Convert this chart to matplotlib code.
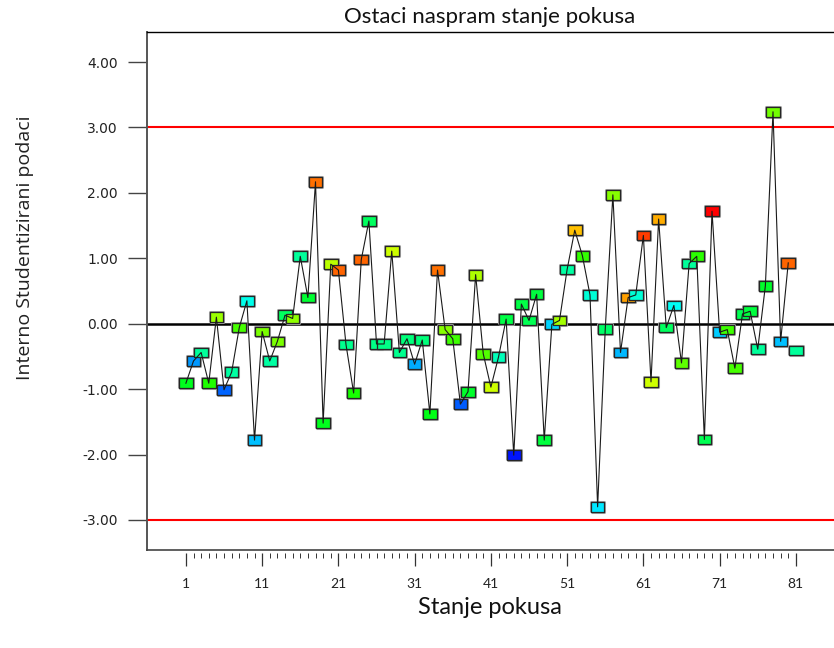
import matplotlib
matplotlib.use("Agg")
import matplotlib.pyplot as plt
from matplotlib.colors import LinearSegmentedColormap
from matplotlib.lines import Line2D
import matplotlib.patheffects as pe

# ---- data ----
runs = list(range(1, 82))
residuals = [
    -0.91, -0.57, -0.44, -0.91, 0.10, -1.01, -0.74, -0.06, 0.35, -1.78,
    -0.12, -0.57, -0.27, 0.13, 0.08, 1.03, 0.40, 2.17, -1.52, 0.91,
    0.82, -0.32, -1.06, 0.98, 1.57, -0.31, -0.31, 1.11, -0.44, -0.23,
    -0.62, -0.25, -1.38, 0.82, -0.09, -0.23, -1.23, -1.04, 0.75, -0.46,
    -0.97, -0.51, 0.07, -2.01, 0.30, 0.05, 0.45, -1.78, -0.01, 0.05,
    0.83, 1.43, 1.04, 0.44, -2.80, -0.08, 1.97, -0.44, 0.40, 0.44,
    1.35, -0.89, 1.60, -0.06, 0.28, -0.60, 0.92, 1.03, -1.77, 1.72,
    -0.13, -0.09, -0.68, 0.15, 0.19, -0.39, 0.58, 3.24, -0.27, 0.93,
    -0.41,
]
color_levels = [
    0.47, 0.15, 0.35, 0.53, 0.65, 0.10, 0.34, 0.57, 0.27, 0.19,
    0.62, 0.34, 0.62, 0.41, 0.64, 0.35, 0.45, 0.89, 0.47, 0.68,
    0.90, 0.36, 0.52, 0.90, 0.41, 0.37, 0.37, 0.70, 0.36, 0.38,
    0.17, 0.38, 0.48, 0.89, 0.63, 0.56, 0.09, 0.46, 0.67, 0.58,
    0.70, 0.32, 0.43, 0.02, 0.43, 0.42, 0.44, 0.44, 0.21, 0.66,
    0.34, 0.81, 0.55, 0.29, 0.23, 0.40, 0.63, 0.18, 0.84, 0.29,
    0.94, 0.70, 0.83, 0.41, 0.26, 0.59, 0.35, 0.54, 0.42, 1.00,
    0.20, 0.56, 0.57, 0.42, 0.44, 0.35, 0.46, 0.61, 0.19, 0.90,
    0.35,
]
y_ticks = [-3, -2, -1, 0, 1, 2, 3, 4]
x_major_ticks = [1, 11, 21, 31, 41, 51, 61, 71, 81]
limit = 3.0
title = "Ostaci naspram stanje pokusa"
x_label = "Stanje pokusa"
y_label = "Interno Studentizirani podaci"

# ---- figure ----
W, H = 834, 648
fig = plt.figure(figsize=(W / 100, H / 100), dpi=100)
left, right, top, bottom = 147, 834, 32, 550
ax = fig.add_axes([left / W, 1 - bottom / H, (right - left) / W, (bottom - top) / H])

cmap = LinearSegmentedColormap.from_list(
    "dx", ["#0000ff", "#00ffff", "#00ff00", "#ffff00", "#ff0000"])

ax.set_xlim(-4.1, 86.0)
ax.set_ylim(-3.46, 4.46)

ax.axhline(limit, color="#ff0000", lw=1.5, zorder=2)
ax.axhline(-limit, color="#ff0000", lw=1.5, zorder=2)
ax.axhline(0, color="black", lw=1.8, zorder=2)

verts = [(-1.4, -1), (1.4, -1), (1.4, 1), (-1.4, 1), (-1.4, -1)]
ax.scatter(runs, residuals, c=color_levels, cmap=cmap, vmin=0, vmax=1,
           marker=verts, s=96, edgecolors="#262626", linewidths=0.9,
           zorder=3,
           path_effects=[pe.Stroke(linewidth=2.2, foreground="#a0a0a0"), pe.Normal()])
ax.plot(runs[:-1], residuals[:-1], color="#1a1a1a", lw=0.8, zorder=4)

# spines
ax.spines["right"].set_visible(False)
ax.spines["top"].set_color("black")
ax.spines["top"].set_linewidth(1.0)
ax.spines["left"].set_color("#555555")
ax.spines["left"].set_linewidth(1.4)
ax.spines["bottom"].set_position(("outward", 2.5))
ax.spines["bottom"].set_visible(False)
ax.add_line(Line2D([0, 1], [0, 0], transform=ax.transAxes, color="#444444",
                   lw=1.2, clip_on=False, zorder=5))

ax.set_yticks(y_ticks)
ax.set_yticklabels([f"{v:.2f}" for v in y_ticks], fontsize=10, family="DejaVu Sans",
                   color="#222222")
ax.tick_params(axis="y", direction="out", length=14, width=1.0, color="#444444", pad=7)

ax.set_xticks(x_major_ticks)
ax.set_xticks([r for r in runs if r not in x_major_ticks], minor=True)
ax.set_xticklabels([str(v) for v in x_major_ticks], fontsize=10, family="Lato",
                   color="#222222")
ax.tick_params(axis="x", which="major", direction="out", length=9.5, width=0.9,
               color="#333333", pad=8)
ax.tick_params(axis="x", which="minor", direction="out", length=3.5, width=0.7,
               color="#333333")

fig.text(490 / W, 1 - 17 / H, title, ha="center", va="center", fontsize=16,
         family="Lato", color="#111111")
fig.text(490 / W, 1 - 607 / H, x_label, ha="center", va="center", fontsize=17,
         family="Lato", color="#111111")
fig.text(25 / W, 1 - 248 / H, y_label, ha="center", va="center", rotation=90,
         fontsize=14, family="Open Sans", color="#222222")

fig.savefig("out.png", dpi=100)
